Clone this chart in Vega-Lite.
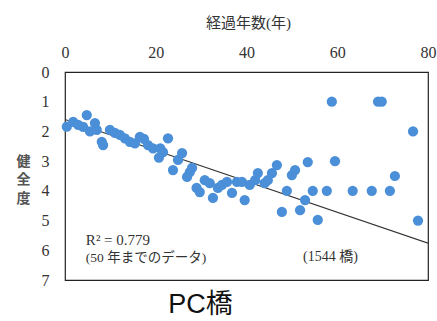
{
  "$schema": "https://vega.github.io/schema/vega-lite/v6.json",
  "autosize": "none",
  "padding": {"left": 65, "top": 72, "right": 9, "bottom": 41},
  "width": 363,
  "height": 208,
  "background": "white",
  "config": {"view": {"stroke": "#222", "strokeWidth": 1.2}},
  "title": {"text": "PC橋", "orient": "bottom", "anchor": "middle", "dx": -46, "offset": 4, "font": "Liberation Sans, Noto Sans CJK JP", "fontSize": 27, "fontWeight": "normal", "color": "#111"},
  "datasets": {
    "pts": [
      {"year": 0.4, "score": 1.84}, {"year": 1.8, "score": 1.68}, {"year": 2.9, "score": 1.78},
      {"year": 4.0, "score": 1.85}, {"year": 4.8, "score": 1.45}, {"year": 5.5, "score": 2.0},
      {"year": 6.6, "score": 1.72}, {"year": 7.0, "score": 1.95}, {"year": 8.1, "score": 2.35},
      {"year": 8.4, "score": 2.46}, {"year": 9.9, "score": 1.95}, {"year": 11.0, "score": 2.05},
      {"year": 12.1, "score": 2.12}, {"year": 13.2, "score": 2.23}, {"year": 14.3, "score": 2.35},
      {"year": 15.4, "score": 2.4}, {"year": 16.5, "score": 2.18}, {"year": 17.4, "score": 2.25},
      {"year": 18.3, "score": 2.46}, {"year": 19.4, "score": 2.57}, {"year": 20.7, "score": 2.88},
      {"year": 21.0, "score": 2.57}, {"year": 21.6, "score": 2.7}, {"year": 22.7, "score": 2.23},
      {"year": 23.8, "score": 3.3}, {"year": 24.9, "score": 2.96}, {"year": 25.8, "score": 2.73},
      {"year": 26.9, "score": 3.53}, {"year": 27.5, "score": 3.37}, {"year": 28.0, "score": 3.23},
      {"year": 29.0, "score": 3.9}, {"year": 29.7, "score": 4.04}, {"year": 30.8, "score": 3.64},
      {"year": 31.9, "score": 3.74}, {"year": 32.6, "score": 4.24}, {"year": 33.7, "score": 3.9},
      {"year": 34.6, "score": 3.8}, {"year": 35.7, "score": 3.7}, {"year": 36.8, "score": 4.07},
      {"year": 37.9, "score": 3.7}, {"year": 39.0, "score": 3.7}, {"year": 39.6, "score": 4.31},
      {"year": 40.7, "score": 3.8}, {"year": 41.9, "score": 3.64}, {"year": 42.5, "score": 3.4},
      {"year": 44.0, "score": 3.74}, {"year": 44.7, "score": 3.64}, {"year": 45.6, "score": 3.4},
      {"year": 46.7, "score": 3.13}, {"year": 47.8, "score": 4.71}, {"year": 48.9, "score": 4.0},
      {"year": 50.0, "score": 3.47}, {"year": 50.7, "score": 3.3}, {"year": 51.8, "score": 4.65},
      {"year": 52.9, "score": 4.31}, {"year": 53.5, "score": 3.03}, {"year": 54.6, "score": 4.0},
      {"year": 55.7, "score": 4.98}, {"year": 57.7, "score": 4.0}, {"year": 58.8, "score": 1.0},
      {"year": 59.5, "score": 3.0}, {"year": 63.4, "score": 4.0}, {"year": 67.6, "score": 4.0},
      {"year": 69.0, "score": 1.0}, {"year": 69.8, "score": 1.0}, {"year": 71.6, "score": 4.0},
      {"year": 72.7, "score": 3.5}, {"year": 76.7, "score": 2.0}, {"year": 77.8, "score": 5.0}
    ],
    "fit": [{"year": 0, "score": 1.6}, {"year": 80, "score": 5.76}],
    "notesLeft": [
      {"year": 4.6, "score": 5.66, "label": "R² = 0.779", "size": 15},
      {"year": 4.6, "score": 6.26, "label": "(50 年までのデータ)", "size": 13.5}
    ],
    "notesCenter": [
      {"year": 58.5, "score": 6.23, "label": "(1544 橋)"}
    ]
  },
  "encoding": {
    "x": {
      "field": "year", "type": "quantitative",
      "scale": {"domain": [0, 80], "nice": false, "zero": false},
      "axis": {
        "orient": "top", "values": [0, 20, 40, 60, 80], "title": "経過年数(年)",
        "grid": false, "ticks": false, "domain": false,
        "labelFont": "Liberation Serif", "labelFontSize": 16, "labelColor": "#333", "labelPadding": 12,
        "labelFlush": false,
        "titleFont": "Liberation Serif, Noto Sans CJK JP", "titleFontSize": 15, "titleFontWeight": "normal",
        "titleColor": "#333", "titlePadding": 14, "titleX": 183
      }
    },
    "y": {
      "field": "score", "type": "quantitative",
      "scale": {"domain": [0, 7], "reverse": true, "nice": false, "zero": false},
      "axis": {
        "values": [0, 1, 2, 3, 4, 5, 6, 7], "title": ["健", "全", "度"],
        "grid": false, "ticks": false, "domain": false,
        "labelFont": "Liberation Serif", "labelFontSize": 16, "labelColor": "#333", "labelPadding": 16,
        "labelFlush": false,
        "titleFont": "Noto Sans CJK JP", "titleFontSize": 14, "titleFontWeight": "bold",
        "titleColor": "#555", "titleAngle": 0, "titleAlign": "center", "titleBaseline": "middle",
        "titleLineHeight": 18.5, "titleX": -42, "titleY": 89
      }
    }
  },
  "layer": [
    {
      "data": {"name": "fit"},
      "mark": {"type": "line", "color": "#333", "strokeWidth": 1.1, "clip": true},
      "encoding": {}
    },
    {
      "data": {"name": "pts"},
      "mark": {"type": "circle", "size": 105, "color": "#4a8fd8", "opacity": 1},
      "encoding": {}
    },
    {
      "data": {"name": "notesLeft"},
      "mark": {"type": "text", "align": "left", "font": "Liberation Serif, Noto Sans CJK JP", "color": "#333"},
      "encoding": {
        "text": {"field": "label"},
        "size": {"field": "size", "type": "quantitative", "scale": null}
      }
    },
    {
      "data": {"name": "notesCenter"},
      "mark": {"type": "text", "align": "center", "fontSize": 14, "font": "Liberation Serif, Noto Sans CJK JP", "color": "#333"},
      "encoding": {
        "text": {"field": "label"}
      }
    }
  ]
}
